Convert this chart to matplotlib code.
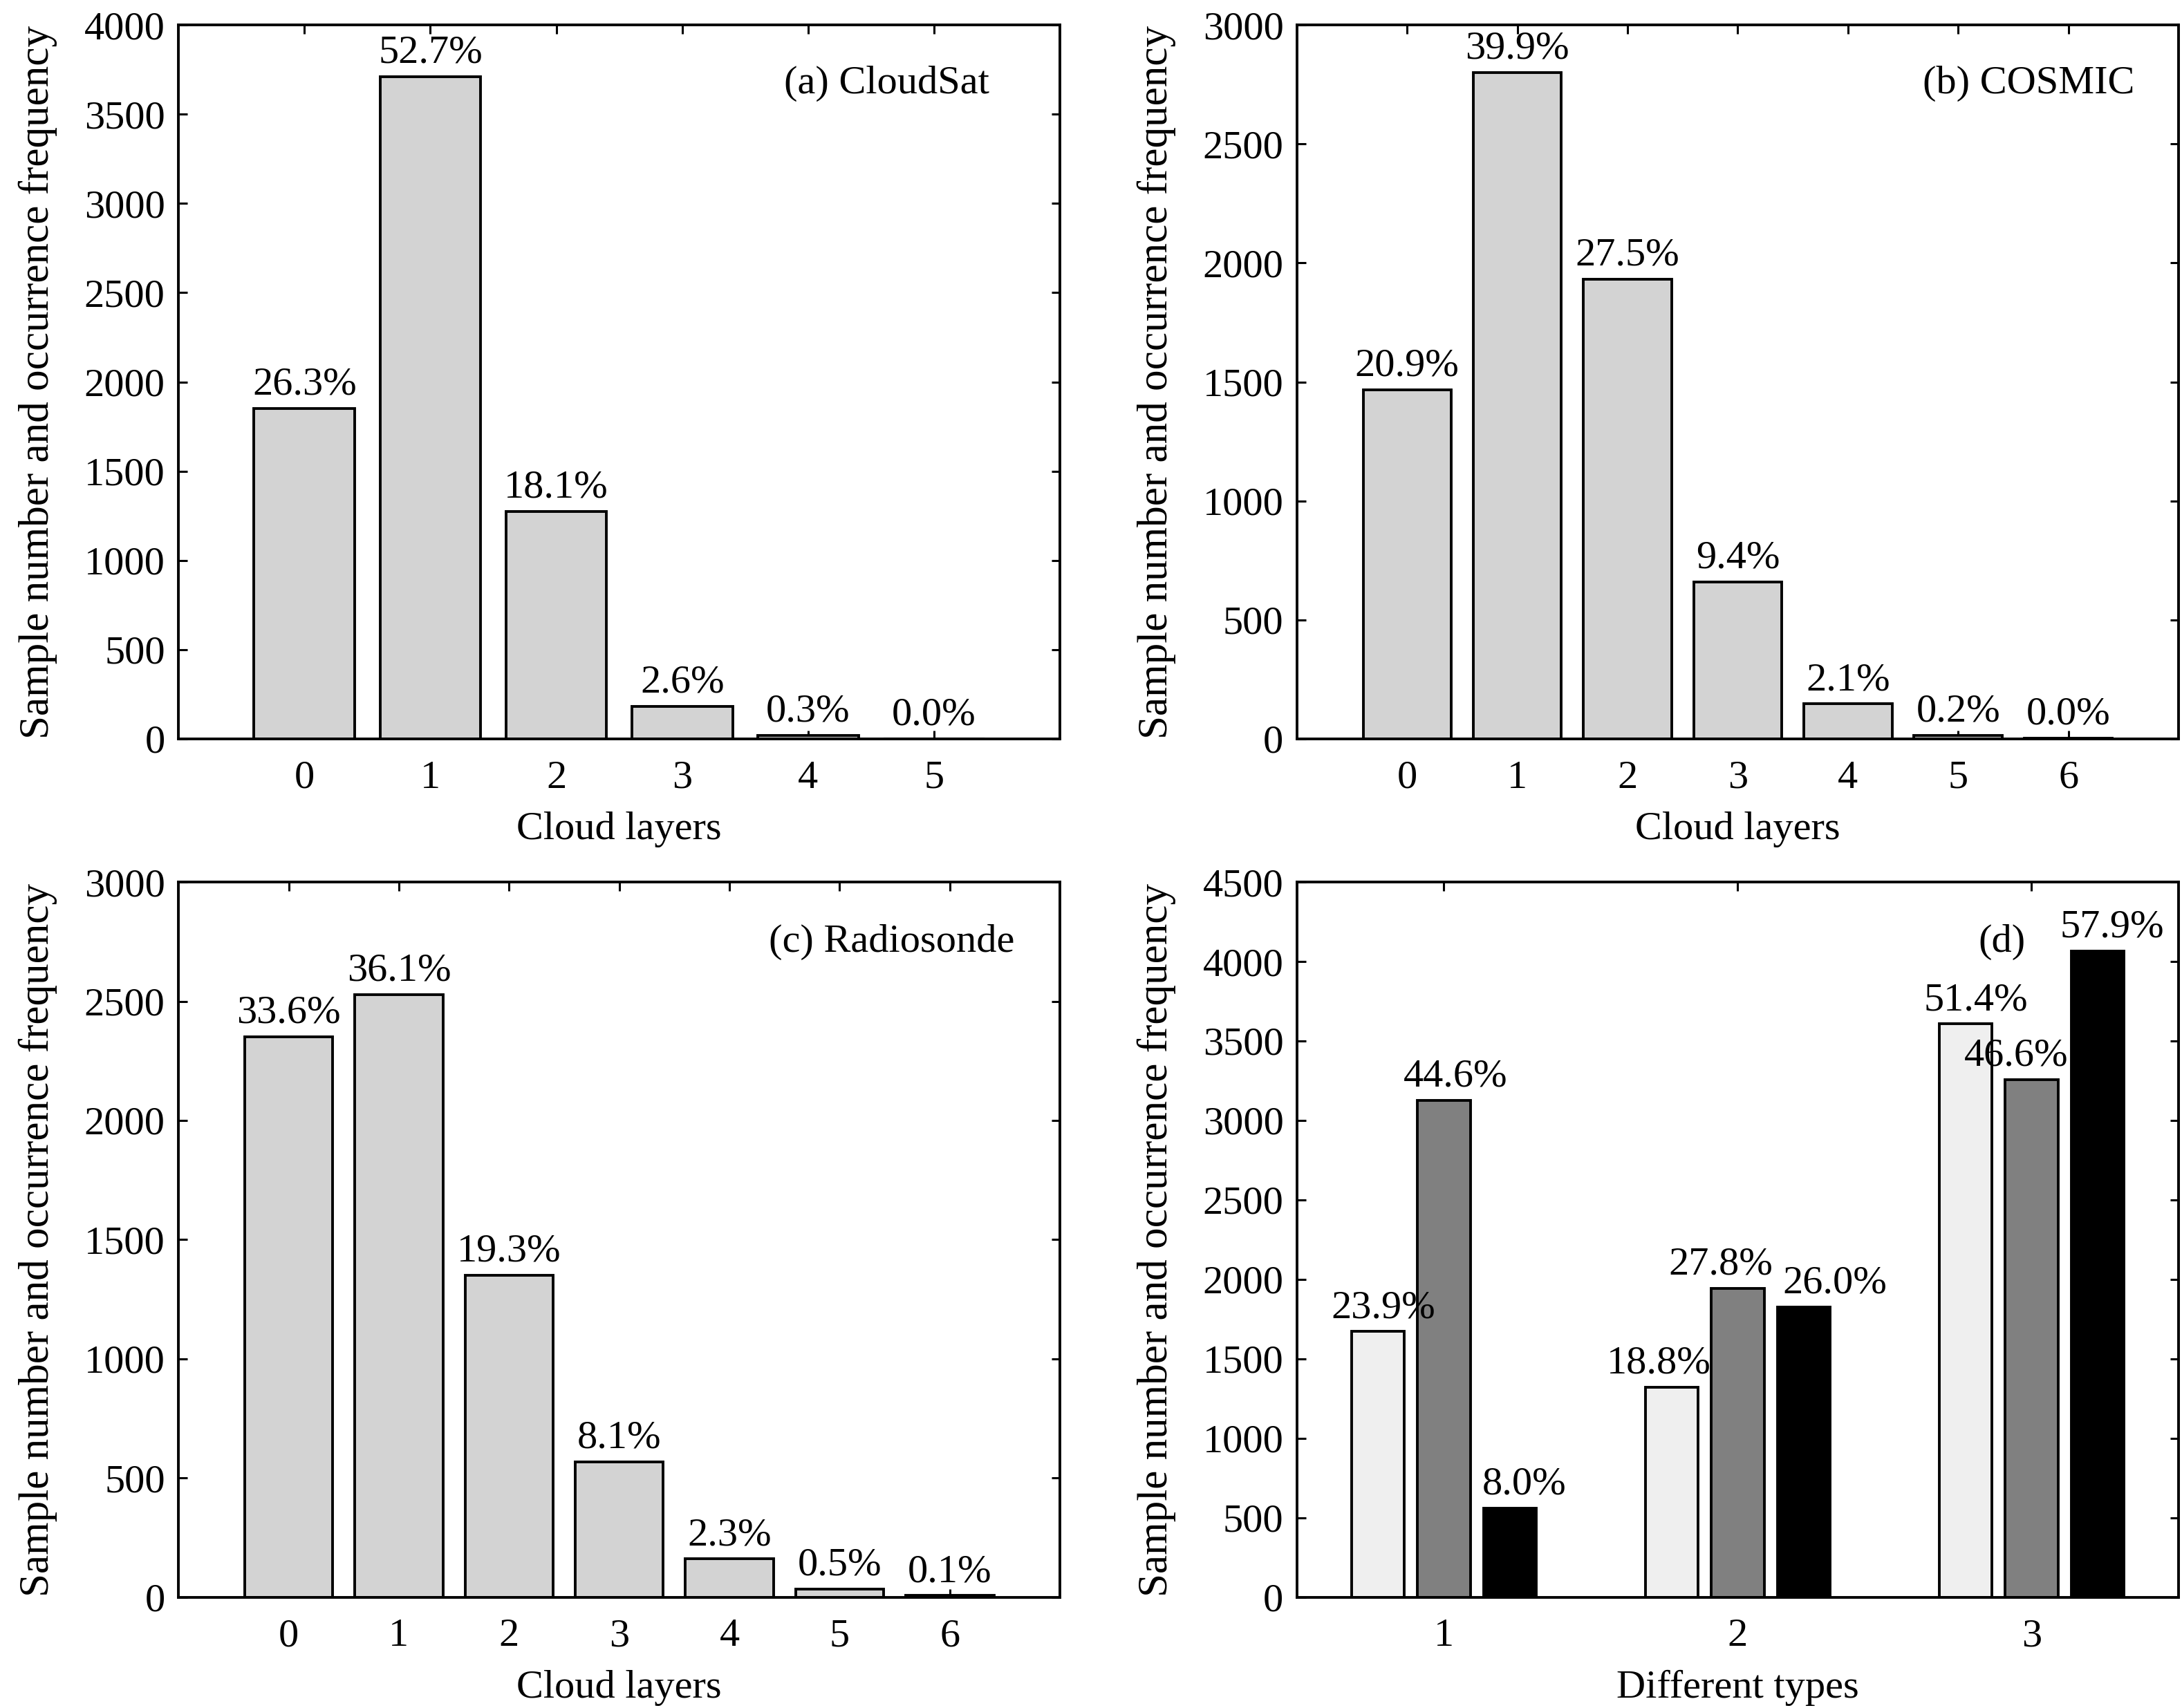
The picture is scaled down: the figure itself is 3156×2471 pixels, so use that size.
import numpy as np
import matplotlib
matplotlib.use('Agg')
import matplotlib.pyplot as plt

plt.rcParams['font.family'] = ['Liberation Serif', 'DejaVu Serif']
plt.rcParams['font.size'] = 21

# (a) CloudSat
layers_a = [0, 1, 2, 3, 4, 5]
counts_a = [1852, 3710, 1274, 183, 21, 1]
pct_a = ['26.3%', '52.7%', '18.1%', '2.6%', '0.3%', '0.0%']

# (b) COSMIC
layers_b = [0, 1, 2, 3, 4, 5, 6]
counts_b = [1467, 2801, 1931, 660, 147, 14, 2]
pct_b = ['20.9%', '39.9%', '27.5%', '9.4%', '2.1%', '0.2%', '0.0%']

# (c) Radiosonde
layers_c = [0, 1, 2, 3, 4, 5, 6]
counts_c = [2352, 2527, 1351, 567, 161, 35, 7]
pct_c = ['33.6%', '36.1%', '19.3%', '8.1%', '2.3%', '0.5%', '0.1%']

# (d) different types, three series
types_d = [1, 2, 3]
light_d = [1672, 1322, 3607]
gray_d = [3126, 1944, 3257]
black_d = [562, 1825, 4065]
pct_light = ['23.9%', '18.8%', '51.4%']
pct_gray = ['44.6%', '27.8%', '46.6%']
pct_black = ['8.0%', '26.0%', '57.9%']
# label nudges (points) as placed in the original figure
nudge_light = [3, -6.5, 5.5]
nudge_gray = [6, -9, -8]
nudge_black = [7.5, 16, 7.5]

ylabel = 'Sample number and occurrence frequency'

fig = plt.figure(figsize=(15.78, 12.355), dpi=200)
axa = fig.add_axes([0.0818, 0.5674, 0.404, 0.418])
axb = fig.add_axes([0.5944, 0.5674, 0.404, 0.418])
axc = fig.add_axes([0.0818, 0.0648, 0.404, 0.4188])
axd = fig.add_axes([0.5944, 0.0648, 0.404, 0.4188])


def style(ax, ymax, xlim, xticks, xlabel):
    ax.set_xlim(*xlim)
    ax.set_ylim(0, ymax)
    ax.set_xticks(xticks)
    ax.set_yticks(np.arange(0, ymax + 1, 500))
    ax.tick_params(direction='in', top=True, right=True, length=4.5, width=1.1,
                   labelsize=21)
    ax.tick_params(axis='x', pad=11)
    ax.tick_params(axis='y', pad=7)
    for s in ax.spines.values():
        s.set_linewidth(1.4)
    ax.set_axisbelow(True)
    ax.set_xlabel(xlabel, fontsize=21, labelpad=8)
    ax.set_ylabel(ylabel, fontsize=22, labelpad=14)


def bars(ax, x, y, labels, color, width=0.8, nudges=None):
    b = ax.bar(x, y, width=width, color=color, edgecolor='black', linewidth=1.4)
    if nudges is None:
        nudges = [0] * len(labels)
    for rect, lab, dx in zip(b, labels, nudges):
        ax.annotate(lab, (rect.get_x() + rect.get_width() / 2, rect.get_height()),
                    xytext=(dx, 3), textcoords='offset points',
                    ha='center', va='bottom', fontsize=21, zorder=5)


bars(axa, layers_a, counts_a, pct_a, '#d3d3d3')
style(axa, 4000, (-1, 6), layers_a, 'Cloud layers')
axa.text(0.92, 0.918, '(a) CloudSat', transform=axa.transAxes, ha='right', va='center', fontsize=21)

bars(axb, layers_b, counts_b, pct_b, '#d3d3d3')
style(axb, 3000, (-1, 7), layers_b, 'Cloud layers')
axb.text(0.95, 0.918, '(b) COSMIC', transform=axb.transAxes, ha='right', va='center', fontsize=21)

bars(axc, layers_c, counts_c, pct_c, '#d3d3d3')
style(axc, 3000, (-1, 7), layers_c, 'Cloud layers')
axc.text(0.948, 0.916, '(c) Radiosonde', transform=axc.transAxes, ha='right', va='center', fontsize=21)

xd = np.array(types_d)
bars(axd, xd - 0.225, light_d, pct_light, '#efefef', width=0.18, nudges=nudge_light)
bars(axd, xd, gray_d, pct_gray, '#808080', width=0.18, nudges=nudge_gray)
bars(axd, xd + 0.225, black_d, pct_black, '#000000', width=0.18, nudges=nudge_black)
style(axd, 4500, (0.5, 3.5), types_d, 'Different types')
axd.text(0.80, 0.916, '(d)', transform=axd.transAxes, ha='center', va='center', fontsize=21)

fig.savefig('out.png', dpi=200)
